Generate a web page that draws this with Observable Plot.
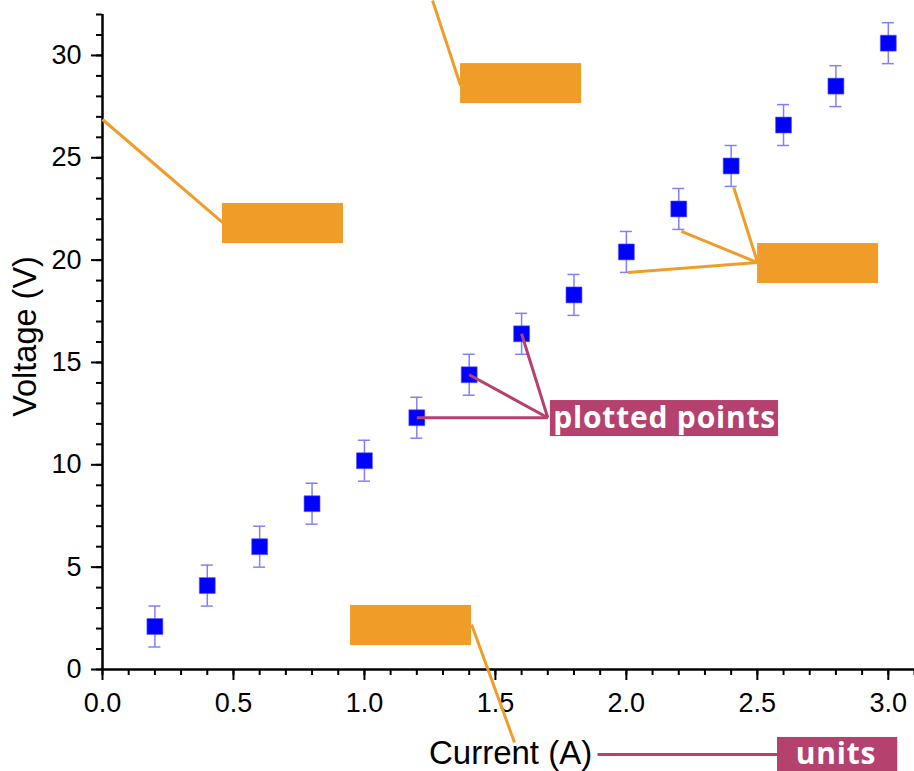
<!DOCTYPE html>
<html>
<head>
<meta charset="utf-8">
<script src="https://cdn.jsdelivr.net/npm/d3@7"></script>
<script src="https://cdn.jsdelivr.net/npm/@observablehq/plot@0.6"></script>
<style>
  html, body { margin: 0; padding: 0; background: #ffffff; }
  svg { display: block; overflow: visible; }
  .tag text { letter-spacing: 0.8px; }
</style>
</head>
<body>
<div id="chart"></div>
<script>
// ---- data ----
const current = [0.2, 0.4, 0.6, 0.8, 1.0, 1.2, 1.4, 1.6, 1.8, 2.0, 2.2, 2.4, 2.6, 2.8, 3.0];
const voltage = [2.1, 4.1, 6.0, 8.1, 10.2, 12.3, 14.4, 16.4, 18.3, 20.4, 22.5, 24.6, 26.6, 28.5, 30.6];
const voltageError = [1, 1, 1, 1, 1, 1, 1, 1, 1, 1, 1, 1, 1, 1, 1];

const xMajorTicks = [0, 0.5, 1.0, 1.5, 2.0, 2.5, 3.0];
const xMinorTicks = [0, 0.1, 0.2, 0.3, 0.4, 0.5, 0.6, 0.7, 0.8, 0.9, 1.0, 1.1, 1.2, 1.3, 1.4, 1.5, 1.6, 1.7, 1.8, 1.9, 2.0, 2.1, 2.2, 2.3, 2.4, 2.5, 2.6, 2.7, 2.8, 2.9, 3.0, 3.1];
const yMajorTicks = [0, 5, 10, 15, 20, 25, 30];
const yMinorTicks = [0, 1, 2, 3, 4, 5, 6, 7, 8, 9, 10, 11, 12, 13, 14, 15, 16, 17, 18, 19, 20, 21, 22, 23, 24, 25, 26, 27, 28, 29, 30, 31, 32];

const xLabel = "Current (A)";
const yLabel = "Voltage (V)";
// axis-title anchor positions (data units)
const xLabelPos = [1.558, -4.12];
const yLabelPos = [-0.293, 16.27];

// annotation overlay (in data units): blank orange boxes and their leader lines
const orangeBoxX1 = [0.458, 1.367, 2.501, 0.947];
const orangeBoxX2 = [0.920, 1.829, 2.963, 1.409];
const orangeBoxY1 = [20.81, 27.65, 18.86, 1.17];
const orangeBoxY2 = [22.77, 29.60, 20.81, 3.13];
const orangeLineX1 = [0.0, 1.26, 2.501, 2.501, 2.501, 1.409];
const orangeLineY1 = [26.87, 32.68, 19.88, 19.88, 19.88, 2.2];
const orangeLineX2 = [0.458, 1.367, 2.005, 2.21, 2.41, 1.573];
const orangeLineY2 = [21.84, 28.53, 19.39, 21.4, 23.55, -3.57];

// magenta labelled boxes
const tagText = ["plotted points", "units"];
const tagBoxX1 = [1.71, 2.577];
const tagBoxX2 = [2.581, 3.036];
const tagBoxY1 = [11.38, -6.0];
const tagBoxY2 = [13.14, -3.32];
const tagTextX = [2.146, 2.80];
const tagTextY = [12.26, -4.15];
const tagLineX1 = [1.70, 1.70, 1.70, 1.89];
const tagLineY1 = [12.3, 12.3, 12.3, -4.15];
const tagLineX2 = [1.2, 1.4, 1.6, 2.577];
const tagLineY2 = [12.3, 14.4, 16.4, -4.15];

// ---- build tables ----
const points = current.map((x, i) => ({x, y: voltage[i], e: voltageError[i]}));
const orangeBoxes = orangeBoxX1.map((_, i) => ({x1: orangeBoxX1[i], x2: orangeBoxX2[i], y1: orangeBoxY1[i], y2: orangeBoxY2[i]}));
const orangeLines = orangeLineX1.map((_, i) => ({x1: orangeLineX1[i], y1: orangeLineY1[i], x2: orangeLineX2[i], y2: orangeLineY2[i]}));
const tagBoxes = tagText.map((t, i) => ({x1: tagBoxX1[i], x2: tagBoxX2[i], y1: tagBoxY1[i], y2: tagBoxY2[i], x: tagTextX[i], y: tagTextY[i], t}));
const tagLines = tagLineX1.map((_, i) => ({x1: tagLineX1[i], y1: tagLineY1[i], x2: tagLineX2[i], y2: tagLineY2[i]}));

const ORANGE = "#ef9d28";
const MAGENTA = "#b5416f";
const CAP = 0.023;

const chart = Plot.plot({
  width: 914,
  height: 771,
  marginLeft: 102,
  marginRight: 0,
  marginTop: 14,
  marginBottom: 102,
  x: {domain: [0, 3.1]},
  y: {domain: [0, 32]},
  style: {fontFamily: "'Liberation Sans', Arial, sans-serif", color: "black", background: "white"},
  marks: [
    Plot.axisX({ticks: xMinorTicks, tickSize: 6, strokeWidth: 2, tickFormat: () => "", label: null}),
    Plot.axisX({ticks: xMajorTicks, tickSize: 11, strokeWidth: 2, tickPadding: 12, fontSize: 27, tickFormat: d => d.toFixed(1), label: null}),
    Plot.axisY({ticks: yMinorTicks, tickSize: 6, strokeWidth: 2, tickFormat: () => "", label: null}),
    Plot.axisY({ticks: yMajorTicks, tickSize: 11, strokeWidth: 2, tickPadding: 10, fontSize: 27, label: null}),
    Plot.ruleX([0], {y1: 0, y2: 32, strokeWidth: 2.5, stroke: "black"}),
    Plot.ruleY([0], {x1: 0, x2: 3.1, strokeWidth: 2.5, stroke: "black"}),
    Plot.text([yLabel], {x: yLabelPos[0], y: yLabelPos[1], rotate: -90, fontSize: 32.5, fill: "black"}),
    Plot.text([xLabel], {x: xLabelPos[0], y: xLabelPos[1], fontSize: 33, fill: "black"}),
    // error bars
    Plot.ruleX(points, {x: "x", y1: d => d.y - d.e, y2: d => d.y + d.e, stroke: "#8080ff", strokeWidth: 1.5}),
    Plot.ruleY(points, {y: d => d.y + d.e, x1: d => d.x - CAP, x2: d => d.x + CAP, stroke: "#8080ff", strokeWidth: 1.5}),
    Plot.ruleY(points, {y: d => d.y - d.e, x1: d => d.x - CAP, x2: d => d.x + CAP, stroke: "#8080ff", strokeWidth: 1.5}),
    Plot.dot(points, {x: "x", y: "y", symbol: "square", r: 9, fill: "#0000ff", stroke: "#5a5aff", strokeWidth: 0.6}),
    // orange annotations
    Plot.link(orangeLines, {x1: "x1", y1: "y1", x2: "x2", y2: "y2", stroke: ORANGE, strokeWidth: 3}),
    Plot.rect(orangeBoxes, {x1: "x1", x2: "x2", y1: "y1", y2: "y2", fill: ORANGE}),
    // magenta annotations
    Plot.link(tagLines, {x1: "x1", y1: "y1", x2: "x2", y2: "y2", stroke: MAGENTA, strokeWidth: 3}),
    Plot.rect(tagBoxes, {x1: "x1", x2: "x2", y1: "y1", y2: "y2", fill: MAGENTA}),
    Plot.text(tagBoxes, {x: "x", y: "y", text: "t", fill: "white", fontWeight: 700, fontSize: 30, fontFamily: "'Open Sans', sans-serif", className: "tag"})
  ]
});
document.getElementById("chart").append(chart);
</script>
</body>
</html>
